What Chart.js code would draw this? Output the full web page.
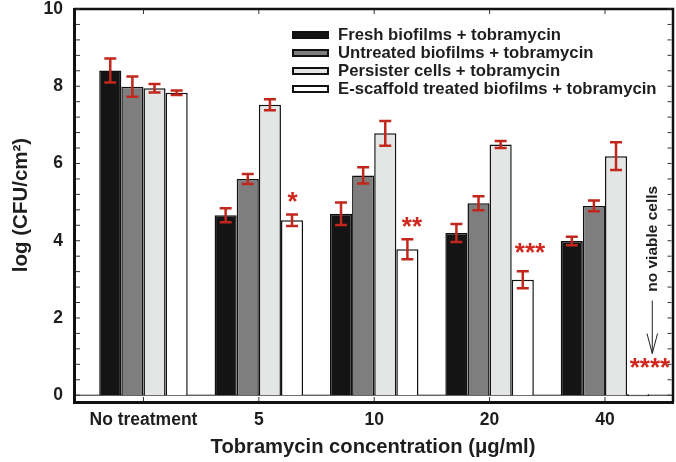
<!DOCTYPE html>
<html>
<head>
<meta charset="utf-8">
<script src="https://cdn.jsdelivr.net/npm/chart.js@4.4.0/dist/chart.umd.min.js"></script>
<style>
    html, body { margin: 0; padding: 0; background: #fff; }
    #wrap { width: 676px; height: 462px; }
</style>
</head>
<body>
<div id="wrap"><canvas id="chart" width="676" height="462"></canvas></div>
<script>
// Values
const categories = ['No treatment', '5', '10', '20', '40'];
const seriesLabels = [
    'Fresh biofilms + tobramycin',
    'Untreated biofilms + tobramycin',
    'Persister cells + tobramycin',
    'E-scaffold treated biofilms + tobramycin'
];
const fresh = [8.41, 4.66, 4.70, 4.20, 3.99];
const freshErr = [0.31, 0.18, 0.29, 0.23, 0.11];
const untreated = [7.99, 5.60, 5.69, 4.97, 4.90];
const untreatedErr = [0.26, 0.13, 0.21, 0.18, 0.14];
const persister = [7.95, 7.52, 6.78, 6.49, 6.19];
const persisterErr = [0.11, 0.14, 0.32, 0.09, 0.36];
const scaffold = [7.83, 4.53, 3.78, 2.99, 0];
const scaffoldErr = [0.06, 0.15, 0.26, 0.22, 0];
const yTicks = [0, 2, 4, 6, 8, 10];

// significance marks and the note at 40 ug/ml
const stars = ['', '*', '**', '***', '****'];
const starX = [null, 1.293, 2.327, 3.35, 4.39];
const starY = [null, 5.09, 4.44, 3.77, 0.79];
const noteText = 'no viable cells';
const noteX = 4.41;
const noteY = 4.05;
const arrowFrom = 2.45;
const arrowTo = 1.08;

const FONT = "'Liberation Sans', Arial, Helvetica, sans-serif";
const INK = '#1e1e1e';
const RED = '#c1271d';

Chart.defaults.font.family = FONT;

function makeSet(label, values, errors, color, extra) {
    return Object.assign({
        label: label,
        data: values.map((v, i) => ({ x: i, y: v })),
        errors: errors,
        backgroundColor: color,
        borderColor: '#111',
        borderWidth: 1.5
    }, extra || {});
}

const decorations = {
    id: 'decorations',
    beforeDatasetsDraw(chart) {
        const ctx = chart.ctx;
        const area = chart.chartArea;
        const y0 = chart.scales.y.getPixelForValue(0);
        ctx.save();
        ctx.strokeStyle = '#222';
        ctx.lineWidth = 1;
        ctx.beginPath();
        ctx.moveTo(area.left, y0);
        ctx.lineTo(area.right, y0);
        ctx.stroke();
        ctx.restore();
    },
    afterDatasetsDraw(chart) {
        const ctx = chart.ctx;
        const ys = chart.scales.y;
        ctx.save();
        ctx.strokeStyle = RED;
        ctx.lineWidth = 2.5;
        chart.data.datasets.forEach((ds, di) => {
            const meta = chart.getDatasetMeta(di);
            ds.errors.forEach((e, i) => {
                if (!e) return;
                const x = meta.data[i].x;
                const v = ds.data[i].y;
                const top = ys.getPixelForValue(v + e);
                const bot = ys.getPixelForValue(v - e);
                ctx.beginPath();
                ctx.moveTo(x, top); ctx.lineTo(x, bot);
                ctx.moveTo(x - 6, top); ctx.lineTo(x + 6, top);
                ctx.moveTo(x - 6, bot); ctx.lineTo(x + 6, bot);
                ctx.stroke();
            });
        });
        ctx.restore();
    },
    afterDraw(chart) {
        const ctx = chart.ctx;
        const area = chart.chartArea;
        const xs = chart.scales.x;
        const ys = chart.scales.y;
        ctx.save();

        // frame
        ctx.strokeStyle = '#111';
        ctx.lineWidth = 2.5;
        ctx.beginPath();
        ctx.moveTo(area.left, area.top);
        ctx.lineTo(area.right + 1, area.top);
        ctx.lineTo(area.right + 1, area.bottom + 1.5);
        ctx.stroke();
        ctx.lineWidth = 3;
        ctx.beginPath();
        ctx.moveTo(area.left + 0.5, area.top - 1);
        ctx.lineTo(area.left + 0.5, area.bottom + 1.5);
        ctx.lineTo(area.right + 2, area.bottom + 1.5);
        ctx.stroke();

        // inward ticks
        ctx.lineWidth = 1;
        ctx.strokeStyle = '#333';
        ctx.beginPath();
        for (let k = 0; k <= 25; k++) {
            const y = ys.getPixelForValue(k * 0.4);
            ctx.moveTo(area.left + 2, y); ctx.lineTo(area.left + 6, y);
            ctx.moveTo(area.right - 0.5, y); ctx.lineTo(area.right - 4.5, y);
        }
        categories.forEach((c, i) => {
            const x = xs.getPixelForValue(i);
            ctx.moveTo(x, area.bottom); ctx.lineTo(x, area.bottom - 4);
            ctx.moveTo(x, area.top + 1); ctx.lineTo(x, area.top + 5);
        });
        ctx.stroke();

        // legend
        const lx = area.left + 218;
        ctx.font = 'bold 16.7px ' + FONT;
        ctx.textBaseline = 'middle';
        ctx.textAlign = 'left';
        chart.data.datasets.forEach((ds, i) => {
            const cy = area.top + 26 + i * 18;
            ctx.fillStyle = ds.backgroundColor;
            ctx.fillRect(lx + 1, cy - 3, 35, 6);
            ctx.strokeStyle = '#111';
            ctx.lineWidth = 2;
            ctx.strokeRect(lx + 1, cy - 3, 35, 6);
            ctx.fillStyle = INK;
            ctx.fillText(ds.label, lx + 46, cy + 0.5);
        });

        // significance stars
        ctx.fillStyle = '#d0281e';
        ctx.textAlign = 'center';
        ctx.textBaseline = 'alphabetic';
        ctx.font = 'bold 26px ' + FONT;
        stars.forEach((s, i) => {
            if (!s) return;
            ctx.fillText(s, xs.getPixelForValue(starX[i]), ys.getPixelForValue(starY[i]) + 0.42 * 26);
        });

        // "no viable cells" note with arrow
        const nx = xs.getPixelForValue(noteX);
        ctx.save();
        ctx.translate(nx, ys.getPixelForValue(noteY));
        ctx.rotate(-Math.PI / 2);
        ctx.fillStyle = INK;
        ctx.font = 'bold 15.5px ' + FONT;
        ctx.textBaseline = 'middle';
        ctx.fillText(noteText, 0, 0);
        ctx.restore();

        const a1 = ys.getPixelForValue(arrowFrom);
        const a2 = ys.getPixelForValue(arrowTo);
        ctx.strokeStyle = '#222';
        ctx.lineWidth = 1;
        ctx.beginPath();
        ctx.moveTo(nx, a1); ctx.lineTo(nx, a2);
        ctx.moveTo(nx - 5.3, a2 - 20); ctx.lineTo(nx, a2); ctx.lineTo(nx + 5.3, a2 - 20);
        ctx.stroke();

        ctx.restore();
    }
};

const chart = new Chart(document.getElementById('chart'), {
    type: 'bar',
    data: {
        datasets: [
            makeSet(seriesLabels[0], fresh, freshErr, '#141414'),
            makeSet(seriesLabels[1], untreated, untreatedErr, '#7e7e7e'),
            makeSet(seriesLabels[2], persister, persisterErr, '#e4e6e6'),
            makeSet(seriesLabels[3], scaffold, scaffoldErr, '#ffffff', { minBarLength: 2 })
        ]
    },
    options: {
        responsive: false,
        animation: false,
        devicePixelRatio: 1,
        layout: { padding: { top: 9, right: 4, left: 0, bottom: 0 } },
        datasets: { bar: { categoryPercentage: 0.767, barPercentage: 1 } },
        plugins: {
            legend: { display: false },
            tooltip: { enabled: false }
        },
        scales: {
            x: {
                type: 'linear',
                min: -0.602,
                max: 4.581,
                offset: false,
                grid: { display: false, drawTicks: false },
                border: { display: false },
                afterBuildTicks: s => { s.ticks = categories.map((c, i) => ({ value: i })); },
                afterFit: s => { s.height = 61; s.paddingLeft = 0; s.paddingRight = 0; },
                ticks: {
                    autoSkip: false,
                    maxRotation: 0,
                    padding: 9,
                    color: INK,
                    font: { size: 17.5, weight: 'bold' },
                    callback: v => categories[v]
                },
                title: {
                    display: true,
                    text: 'Tobramycin concentration (μg/ml)',
                    color: INK,
                    font: { size: 20.2, weight: 'bold' },
                    padding: { top: 0, bottom: 2 }
                }
            },
            y: {
                min: -0.15,
                max: 10,
                grid: { display: false, drawTicks: false },
                border: { display: false },
                afterBuildTicks: s => { s.ticks = yTicks.map(v => ({ value: v })); },
                afterFit: s => { s.width = 74; s.paddingTop = 0; s.paddingBottom = 0; },
                ticks: {
                    padding: 11,
                    color: INK,
                    font: { size: 17.5, weight: 'bold' }
                },
                title: {
                    display: true,
                    text: 'log (CFU/cm²)',
                    color: INK,
                    font: { size: 20.5, weight: 'bold' },
                    padding: { top: 9, bottom: 0 }
                }
            }
        }
    },
    plugins: [decorations]
});
</script>
</body>
</html>
